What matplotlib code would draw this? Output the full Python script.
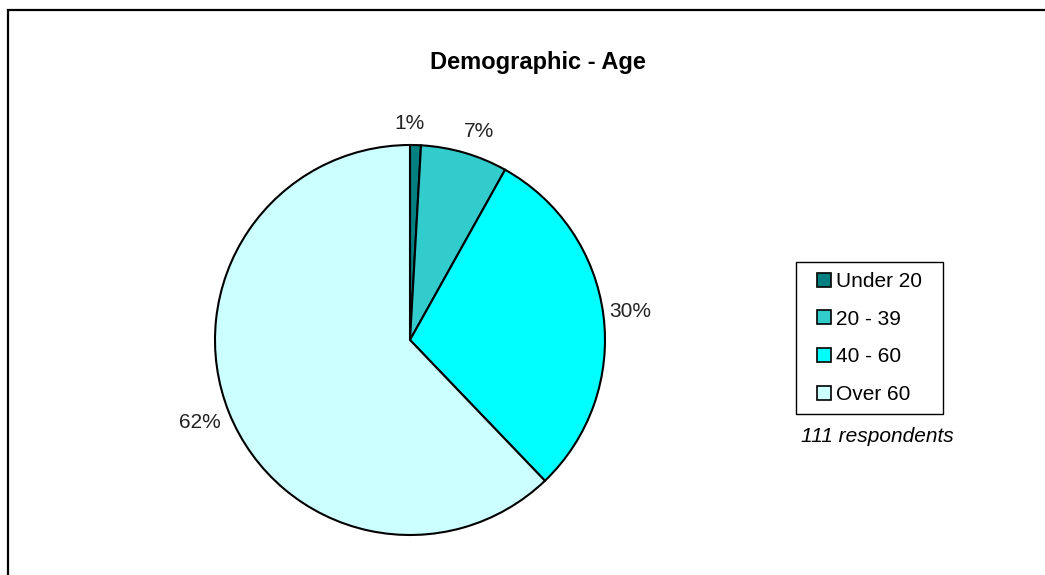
import matplotlib.pyplot as plt
import matplotlib.patches as mpatches

categorias = ['Under 20', '20 - 39', '40 - 60', 'Over 60']
contagens = [1, 8, 33, 69]
cores = ['#008080', '#33CCCC', '#00FFFF', '#CCFFFF']
titulo = 'Demographic - Age'
nota = '111 respondents'

plt.rcParams['font.family'] = ['Liberation Sans', 'DejaVu Sans']

W, H = 1045, 575
fig = plt.figure(figsize=(W / 100, H / 100), dpi=100)

# moldura cortada (so topo e esquerda visiveis)
fig.patches.append(mpatches.Rectangle((7.5 / W, -0.1), 1.2, 1.1 - 10.5 / H,
                                      transform=fig.transFigure, fill=False,
                                      edgecolor='black', linewidth=1.6))

cx, cy, r = 410, 340, 195
ax = fig.add_axes([(cx - r) / W, (H - cy - r) / H, 2 * r / W, 2 * r / H])
wedges, textos, autotextos = ax.pie(
    contagens, colors=cores, startangle=90, counterclock=False,
    autopct=lambda p: f'{p:.0f}%', pctdistance=1.14,
    wedgeprops=dict(edgecolor='black', linewidth=1.5),
    textprops=dict(fontsize=15, color='#222222'))
ax.set_xlim(-1, 1)
ax.set_ylim(-1, 1)

# pequenos acertos de posicao dos rotulos
ajustes = [(-0.035, -0.03), (0.035, -0.025), (0, 0), (-0.02, 0)]
for t, (dx, dy) in zip(autotextos, ajustes):
    x, y = t.get_position()
    t.set_position((x + dx, y + dy))

fig.text(538 / W, 1 - 63 / H, titulo, ha='center', va='center',
         fontsize=17, fontweight='bold')

handles = [mpatches.Patch(facecolor=c, edgecolor='black', linewidth=1.2, label=l)
           for l, c in zip(categorias, cores)]
leg = fig.legend(handles=handles, loc='center', bbox_to_anchor=(869.5 / W, 1 - 338 / H),
                 fontsize=15, frameon=False, handlelength=0.65,
                 handleheight=0.65, handletextpad=0.25, labelspacing=0.9,
                 borderpad=0.8, borderaxespad=0)

# caixa da legenda desenhada a parte
fig.patches.append(mpatches.Rectangle((796 / W, 1 - 414 / H), 147 / W, 152 / H,
                                      transform=fig.transFigure, fill=False,
                                      edgecolor='black', linewidth=1.0))

fig.text(877 / W, 1 - 436 / H, nota, ha='center', va='center',
         fontsize=15, style='italic')

fig.savefig('out.png', dpi=100)
